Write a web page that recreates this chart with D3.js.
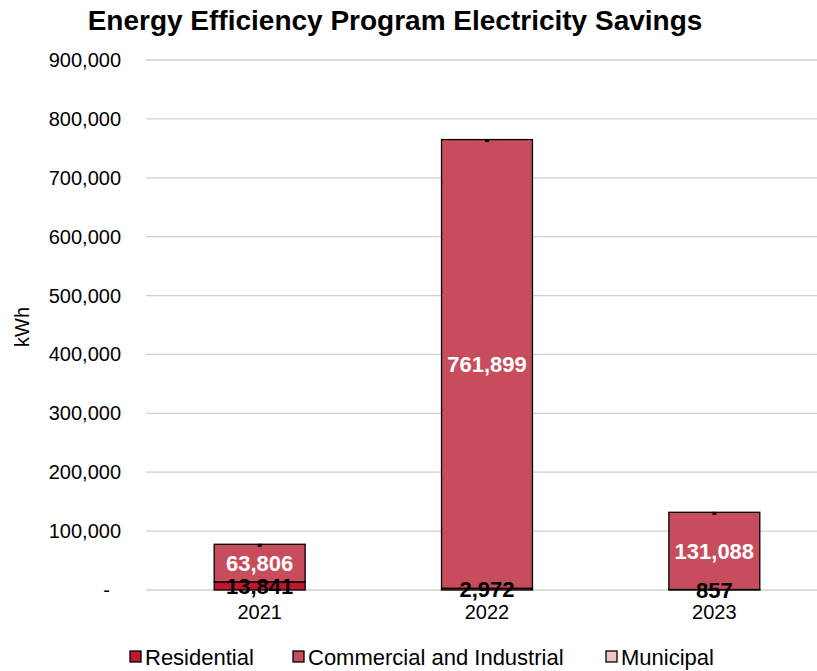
<!DOCTYPE html>
<html>
<head>
<meta charset="utf-8">
<script src="https://cdn.jsdelivr.net/npm/d3@7"></script>
<style>
  body { margin: 0; background: #fff; }
  svg { font-family: "Liberation Sans", Arial, sans-serif; }
</style>
</head>
<body>
<svg id="chart" width="817" height="671"></svg>
<script>
const years = ["2021", "2022", "2023"];
const residential = [13841, 2972, 857];
const commercial = [63806, 761899, 131088];
const municipal = [0, 0, 0];
const yTicks = [0, 100000, 200000, 300000, 400000, 500000, 600000, 700000, 800000, 900000];

const seriesNames = ["Residential", "Commercial and Industrial", "Municipal"];
const colors = ["#C0172F", "#C84D5C", "#EEC5C9"];

const margin = { top: 60, right: 0, bottom: 81, left: 146 },
      width = 682,
      height = 671 - margin.top - margin.bottom;

const svg = d3.select("#chart");
const g = svg.append("g").attr("transform", `translate(${margin.left},${margin.top})`);

const rows = years.map((y, i) => ({
  year: y,
  Residential: residential[i],
  "Commercial and Industrial": commercial[i],
  Municipal: municipal[i]
}));

const x = d3.scaleBand().domain(years).range([0, width]).paddingInner(0.6).paddingOuter(0.3);
const y = d3.scaleLinear().domain([0, 900000]).range([height, 0]);
const color = d3.scaleOrdinal().domain(seriesNames).range(colors);

// gridlines
g.append("g")
  .selectAll("line")
  .data(yTicks)
  .join("line")
  .attr("x1", 0)
  .attr("x2", width)
  .attr("y1", d => y(d))
  .attr("y2", d => y(d))
  .attr("stroke", "#d0d0d0")
  .attr("stroke-width", 1.3);

// y tick labels
g.append("g")
  .selectAll("text")
  .data(yTicks)
  .join("text")
  .attr("x", d => d === 0 ? -36 : -25)
  .attr("y", d => y(d))
  .attr("dy", "0.35em")
  .attr("text-anchor", "end")
  .attr("font-size", "20px")
  .attr("fill", "#000")
  .text(d => d === 0 ? "-" : d3.format(",")(d));

const stacked = d3.stack().keys(seriesNames)(rows);

const groups = g.append("g")
  .selectAll("g")
  .data(stacked)
  .join("g")
  .attr("fill", d => color(d.key));

groups.selectAll("rect")
  .data(d => d.map(p => ({ ...p, key: d.key })))
  .join("rect")
  .attr("x", d => x(d.data.year))
  .attr("width", x.bandwidth())
  .attr("y", d => y(d[1]))
  .attr("height", d => y(d[0]) - y(d[1]))
  .attr("stroke", "#000")
  .attr("stroke-width", 1.3);

// small marker for the (near-zero) municipal segment at the top of each bar
g.append("g")
  .selectAll("rect")
  .data(stacked[2])
  .join("rect")
  .attr("x", d => x(d.data.year) + x.bandwidth() / 2 - 2)
  .attr("y", d => y(d[1]) - 0.5)
  .attr("width", 4)
  .attr("height", 3)
  .attr("fill", "#000");

// data labels
const labels = g.append("g").attr("font-size", "22px").attr("font-weight", "bold").attr("text-anchor", "middle");

labels.selectAll("text.ci")
  .data(stacked[1])
  .join("text")
  .attr("class", "ci")
  .attr("x", d => x(d.data.year) + x.bandwidth() / 2)
  .attr("y", d => (y(d[0]) + y(d[1])) / 2)
  .attr("dy", "0.36em")
  .attr("fill", "#fff")
  .text(d => d3.format(",")(d[1] - d[0]));

labels.selectAll("text.res")
  .data(stacked[0])
  .join("text")
  .attr("class", "res")
  .attr("x", d => x(d.data.year) + x.bandwidth() / 2)
  .attr("y", d => (y(d[0]) + y(d[1])) / 2)
  .attr("dy", "0.36em")
  .attr("fill", "#000")
  .text(d => d3.format(",")(d[1] - d[0]));

// x axis labels
g.append("g")
  .selectAll("text")
  .data(years)
  .join("text")
  .attr("x", d => x(d) + x.bandwidth() / 2)
  .attr("y", height + 29)
  .attr("text-anchor", "middle")
  .attr("font-size", "20px")
  .text(d => d);

// y axis title
svg.append("text")
  .attr("transform", `translate(29,${margin.top + height / 2 + 2}) rotate(-90)`)
  .attr("text-anchor", "middle")
  .attr("font-size", "20px")
  .text("kWh");

// title
svg.append("text")
  .attr("x", 395)
  .attr("y", 30)
  .attr("text-anchor", "middle")
  .attr("font-size", "28px")
  .attr("font-weight", "bold")
  .text("Energy Efficiency Program Electricity Savings");

// legend
const legendX = [130, 293, 606];
const legend = svg.append("g");
seriesNames.forEach((name, i) => {
  const item = legend.append("g").attr("transform", `translate(${legendX[i]},657)`);
  item.append("rect")
    .attr("x", 0)
    .attr("y", -6)
    .attr("width", 11)
    .attr("height", 11)
    .attr("fill", color(name))
    .attr("stroke", "#000")
    .attr("stroke-width", 1.3);
  item.append("text")
    .attr("x", 15)
    .attr("y", 0)
    .attr("dy", "0.35em")
    .attr("font-size", "22px")
    .text(name);
});
</script>
</body>
</html>
